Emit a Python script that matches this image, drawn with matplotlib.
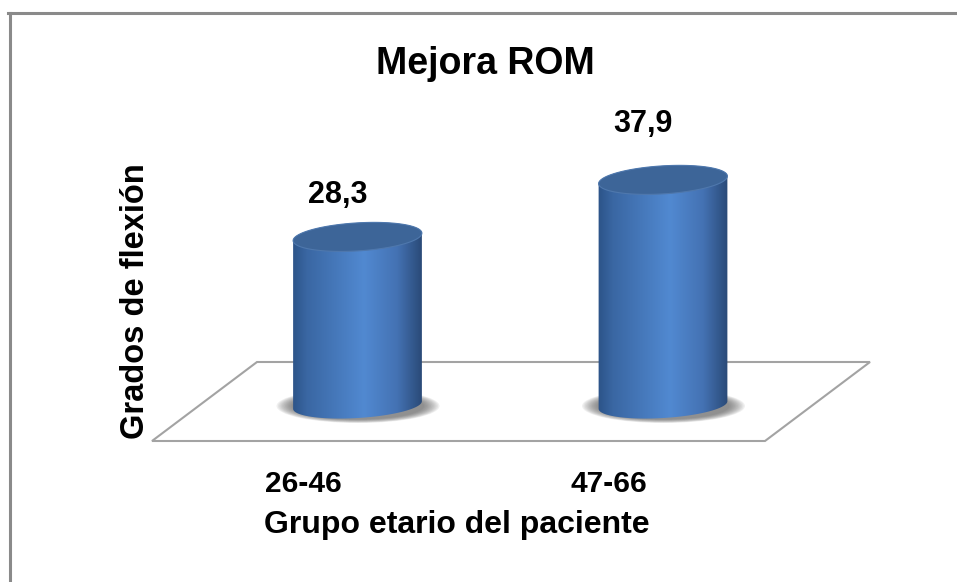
import numpy as np
import matplotlib.pyplot as plt
from matplotlib.patches import Polygon, Ellipse
from matplotlib.colors import LinearSegmentedColormap

plt.rcParams['font.family'] = ['Liberation Sans', 'DejaVu Sans']
plt.rcParams['font.weight'] = 'bold'

# datos del grafico
categories = ["26-46", "47-66"]
values = [28.3, 37.9]
value_labels = ["28,3", "37,9"]

title = "Mejora ROM"
xlabel = "Grupo etario del paciente"
ylabel = "Grados de flexión"

W, H, DPI = 957, 582, 100

# escala del area de dibujo (en pixeles)
BASE_PX = 405      # altura (desde arriba) del valor 0
X0_PX = 357.5      # centro de la primera categoria
STEP_PX = 305.5    # separacion entre categorias
PX_PER_UNIT = 5.94

RADIUS_PX = 64.5
TOP_B_PX = 14
BOT_B_PX = 13
TILT = 3.5

body_cmap = LinearSegmentedColormap.from_list(
    "body", [(0.0, "#2b5286"), (0.12, "#3a67a3"), (0.55, "#5189d1"),
             (0.8, "#4472b3"), (1.0, "#284773")])


def px_x(p):
    return p / STEP_PX


def px_y(p):
    return p / PX_PER_UNIT


def to_data(px, py):
    return (px - X0_PX) / STEP_PX, (BASE_PX - py) / PX_PER_UNIT


def ellipse_pts(cx, cy, a, b, t):
    th = np.radians(TILT)
    ex = a * np.cos(t) * np.cos(th) - b * np.sin(t) * np.sin(th)
    ey = a * np.cos(t) * np.sin(th) + b * np.sin(t) * np.cos(th)
    return cx + px_x(ex), cy + px_y(ey)


def draw_cylinder(ax, cx, value):
    # sombra difusa bajo el cilindro
    for k in range(12):
        f = 1 - k / 12
        ax.add_patch(Ellipse((cx + px_x(0.5), px_y(-1)),
                             px_x(2 * (RADIUS_PX + 17 * f)),
                             px_y(2 * (BOT_B_PX + 4 * f)),
                             fc="#606060", ec="none", alpha=0.09, zorder=2))

    t_low = np.linspace(np.pi, 2 * np.pi, 80)
    t_up = np.linspace(0, np.pi, 80)
    bx, by = ellipse_pts(cx, 0, RADIUS_PX, BOT_B_PX, t_low)
    tx, ty = ellipse_pts(cx, value, RADIUS_PX, TOP_B_PX, t_up)
    body = Polygon(np.column_stack([np.r_[bx, tx], np.r_[by, ty]]),
                   closed=True, fc="none", ec="none", zorder=3)
    ax.add_patch(body)

    grad = np.linspace(0, 1, 256).reshape(1, -1)
    im = ax.imshow(grad, cmap=body_cmap, aspect="auto", zorder=3,
                   extent=(cx - px_x(RADIUS_PX + 2), cx + px_x(RADIUS_PX + 2),
                           by.min() - 1, ty.max() + 1))
    im.set_clip_path(body)

    t = np.linspace(0, 2 * np.pi, 160)
    ex, ey = ellipse_pts(cx, value, RADIUS_PX, TOP_B_PX, t)
    ax.fill(ex, ey, fc="#3d6598", ec="#4f78ad", lw=0.8, zorder=4)


fig = plt.figure(figsize=(W / DPI, H / DPI), dpi=DPI)
ax = fig.add_axes([0, 0, 1, 1])
ax.set_xlim(-X0_PX / STEP_PX, (W - X0_PX) / STEP_PX)
ax.set_ylim(-(H - BASE_PX) / PX_PER_UNIT, BASE_PX / PX_PER_UNIT)
ax.axis("off")

# suelo en perspectiva
floor = [to_data(257, 362), to_data(870, 362), to_data(765, 441), to_data(152, 441)]
ax.add_patch(Polygon(floor, closed=True, fc="white", ec="#a3a3a3", lw=1.5, zorder=1))

for i, v in enumerate(values):
    draw_cylinder(ax, i, v)
    ax.text(i - px_x(20), v * 1.248, value_labels[i], ha="center", va="center",
            fontsize=22, fontweight="bold")
    ax.text(i - px_x(54), to_data(0, 484)[1], categories[i], ha="center",
            va="center", fontsize=21.5, fontweight="bold")

fig.text(485 / W, 1 - 64 / H, title, ha="center", va="center",
         fontsize=27, fontweight="bold")
fig.text(457 / W, 1 - 525 / H, xlabel, ha="center", va="center",
         fontsize=23, fontweight="bold")
fig.text(136 / W, 1 - 301 / H, ylabel, ha="center", va="center",
         rotation=90, fontsize=23.5, fontweight="bold")

# marco del grafico (recortado a la derecha y abajo)
fig.add_artist(plt.Line2D([9.5 / W, 9.5 / W], [0, 1 - 12.5 / H],
                          color="#8a8a8a", lw=2.2))
fig.add_artist(plt.Line2D([8 / W, 1], [1 - 12.5 / H, 1 - 12.5 / H],
                          color="#8a8a8a", lw=2.2))

fig.savefig("out.png", dpi=DPI, facecolor="white")
